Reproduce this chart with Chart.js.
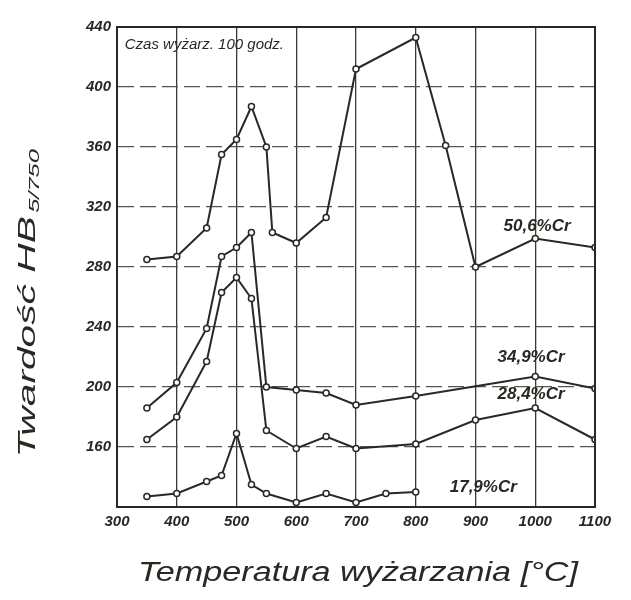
<!DOCTYPE html>
<html>
<head>
<meta charset="utf-8">
<script src="https://cdn.jsdelivr.net/npm/chart.js@4/dist/chart.umd.min.js"></script>
<style>
  body { margin: 0; background: #fff; }
  #hbChart { display: block; }
</style>
</head>
<body>
<canvas id="hbChart" width="631" height="600"></canvas>
<script>
// temperatury wyżarzania [°C] i twardość HB dla każdego stopu
const temps506 = [350, 400, 450, 475, 500, 525, 550, 560, 600, 650, 700, 800, 850, 900, 1000, 1100];
const hb506    = [285, 287, 306, 355, 365, 387, 360, 303, 296, 313, 412, 433, 361, 280, 299, 293];

const temps349 = [350, 400, 450, 475, 500, 525, 550, 600, 650, 700, 800, 1000, 1100];
const hb349    = [186, 203, 239, 287, 293, 303, 200, 198, 196, 188, 194, 207, 199];

const temps284 = [350, 400, 450, 475, 500, 525, 550, 600, 650, 700, 800, 900, 1000, 1100];
const hb284    = [165, 180, 217, 263, 273, 259, 171, 159, 167, 159, 162, 178, 186, 165];

const temps179 = [350, 400, 450, 475, 500, 525, 550, 600, 650, 700, 750, 800];
const hb179    = [127, 129, 137, 141, 169, 135, 129, 123, 129, 123, 129, 130];

const seriesNames = ["50,6%Cr", "34,9%Cr", "28,4%Cr", "17,9%Cr"];
// where the hand-written series labels sit, in data units
const labelTemps = [1003, 993, 993, 913];
const labelHB    = [307, 220, 195, 133];

const noteText = "Czas wyżarz. 100 godz.";
const xTitle = "Temperatura wyżarzania [°C]";
const yTitle = "Twardość HB";
const yTitleSub = "5/750";

const ink = "#2b2723";

function pts(xs, ys) {
    return xs.map((x, i) => ({ x: x, y: ys[i] }));
}

function ds(label, xs, ys) {
    return {
        label: label,
        data: pts(xs, ys),
        borderColor: ink,
        borderWidth: 2,
        pointRadius: 3,
        pointBackgroundColor: "#fff",
        pointBorderColor: ink,
        pointBorderWidth: 1.5,
        tension: 0
    };
}

const textPlugin = {
    id: "handText",
    afterDraw(chart) {
        const c = chart.ctx;
        const xs = chart.scales.x;
        const ys = chart.scales.y;
        const area = chart.chartArea;

        // frame
        c.save();
        c.strokeStyle = ink;
        c.lineWidth = 2;
        c.strokeRect(area.left, area.top, area.right - area.left, area.bottom - area.top);

        c.fillStyle = ink;
        c.textBaseline = "middle";

        // series labels
        c.font = "italic bold 17px 'Liberation Sans'";
        c.textAlign = "center";
        seriesNames.forEach((n, i) => {
            c.fillText(n, xs.getPixelForValue(labelTemps[i]), ys.getPixelForValue(labelHB[i]));
        });

        // note
        c.font = "italic 15px 'Liberation Sans'";
        c.textAlign = "left";
        c.fillText(noteText, xs.getPixelForValue(313), ys.getPixelForValue(428));

        // x title
        c.font = "italic 25px 'Liberation Sans'";
        c.textAlign = "center";
        c.save();
        c.translate((area.left + area.right) / 2 + 2, 573);
        const w = c.measureText(xTitle).width;
        c.scale(440 / w, 1.1);
        c.fillText(xTitle, 0, 0);
        c.restore();

        // y title with subscript
        c.save();
        c.translate(28, 305);
        c.rotate(-Math.PI / 2);
        c.font = "italic 24px 'Liberation Sans'";
        const w1 = c.measureText(yTitle).width;
        c.font = "italic 15px 'Liberation Sans'";
        const w2 = c.measureText(yTitleSub).width;
        const sx = 305 / (w1 + w2);
        c.scale(sx, 1);
        c.textAlign = "left";
        c.font = "italic 24px 'Liberation Sans'";
        c.fillText(yTitle, -(w1 + w2) / 2, 0);
        c.font = "italic 15px 'Liberation Sans'";
        c.fillText(yTitleSub, -(w1 + w2) / 2 + w1 + 2, 7);
        c.restore();

        c.restore();
    }
};

new Chart(document.getElementById("hbChart"), {
    type: "line",
    data: {
        datasets: [
            ds(seriesNames[0], temps506, hb506),
            ds(seriesNames[1], temps349, hb349),
            ds(seriesNames[2], temps284, hb284),
            ds(seriesNames[3], temps179, hb179)
        ]
    },
    options: {
        responsive: false,
        animation: false,
        layout: { padding: { top: 27, right: 36, left: 0, bottom: 0 } },
        plugins: {
            legend: { display: false },
            tooltip: { enabled: false }
        },
        scales: {
            x: {
                type: "linear",
                min: 300,
                max: 1100,
                afterFit: (s) => { s.height = 93; },
                ticks: {
                    stepSize: 100,
                    color: ink,
                    padding: 6,
                    font: { family: "'Liberation Sans'", size: 15, style: "italic", weight: "bold" },
                    callback: (v) => String(v)
                },
                grid: { color: "#3d3833", lineWidth: 1.3, drawTicks: false },
                border: { color: ink, width: 2 }
            },
            y: {
                min: 120,
                max: 440,
                afterFit: (s) => { s.width = 117; },
                ticks: {
                    stepSize: 40,
                    color: ink,
                    padding: 6,
                    font: { family: "'Liberation Sans'", size: 15, style: "italic", weight: "bold" },
                    callback: (v) => (v === 120 ? "" : String(v))
                },
                grid: { color: "#5a544e", lineWidth: 1.2, drawTicks: false },
                border: { color: ink, width: 2, dash: [16, 6] }
            }
        }
    },
    plugins: [textPlugin]
});
</script>
</body>
</html>
